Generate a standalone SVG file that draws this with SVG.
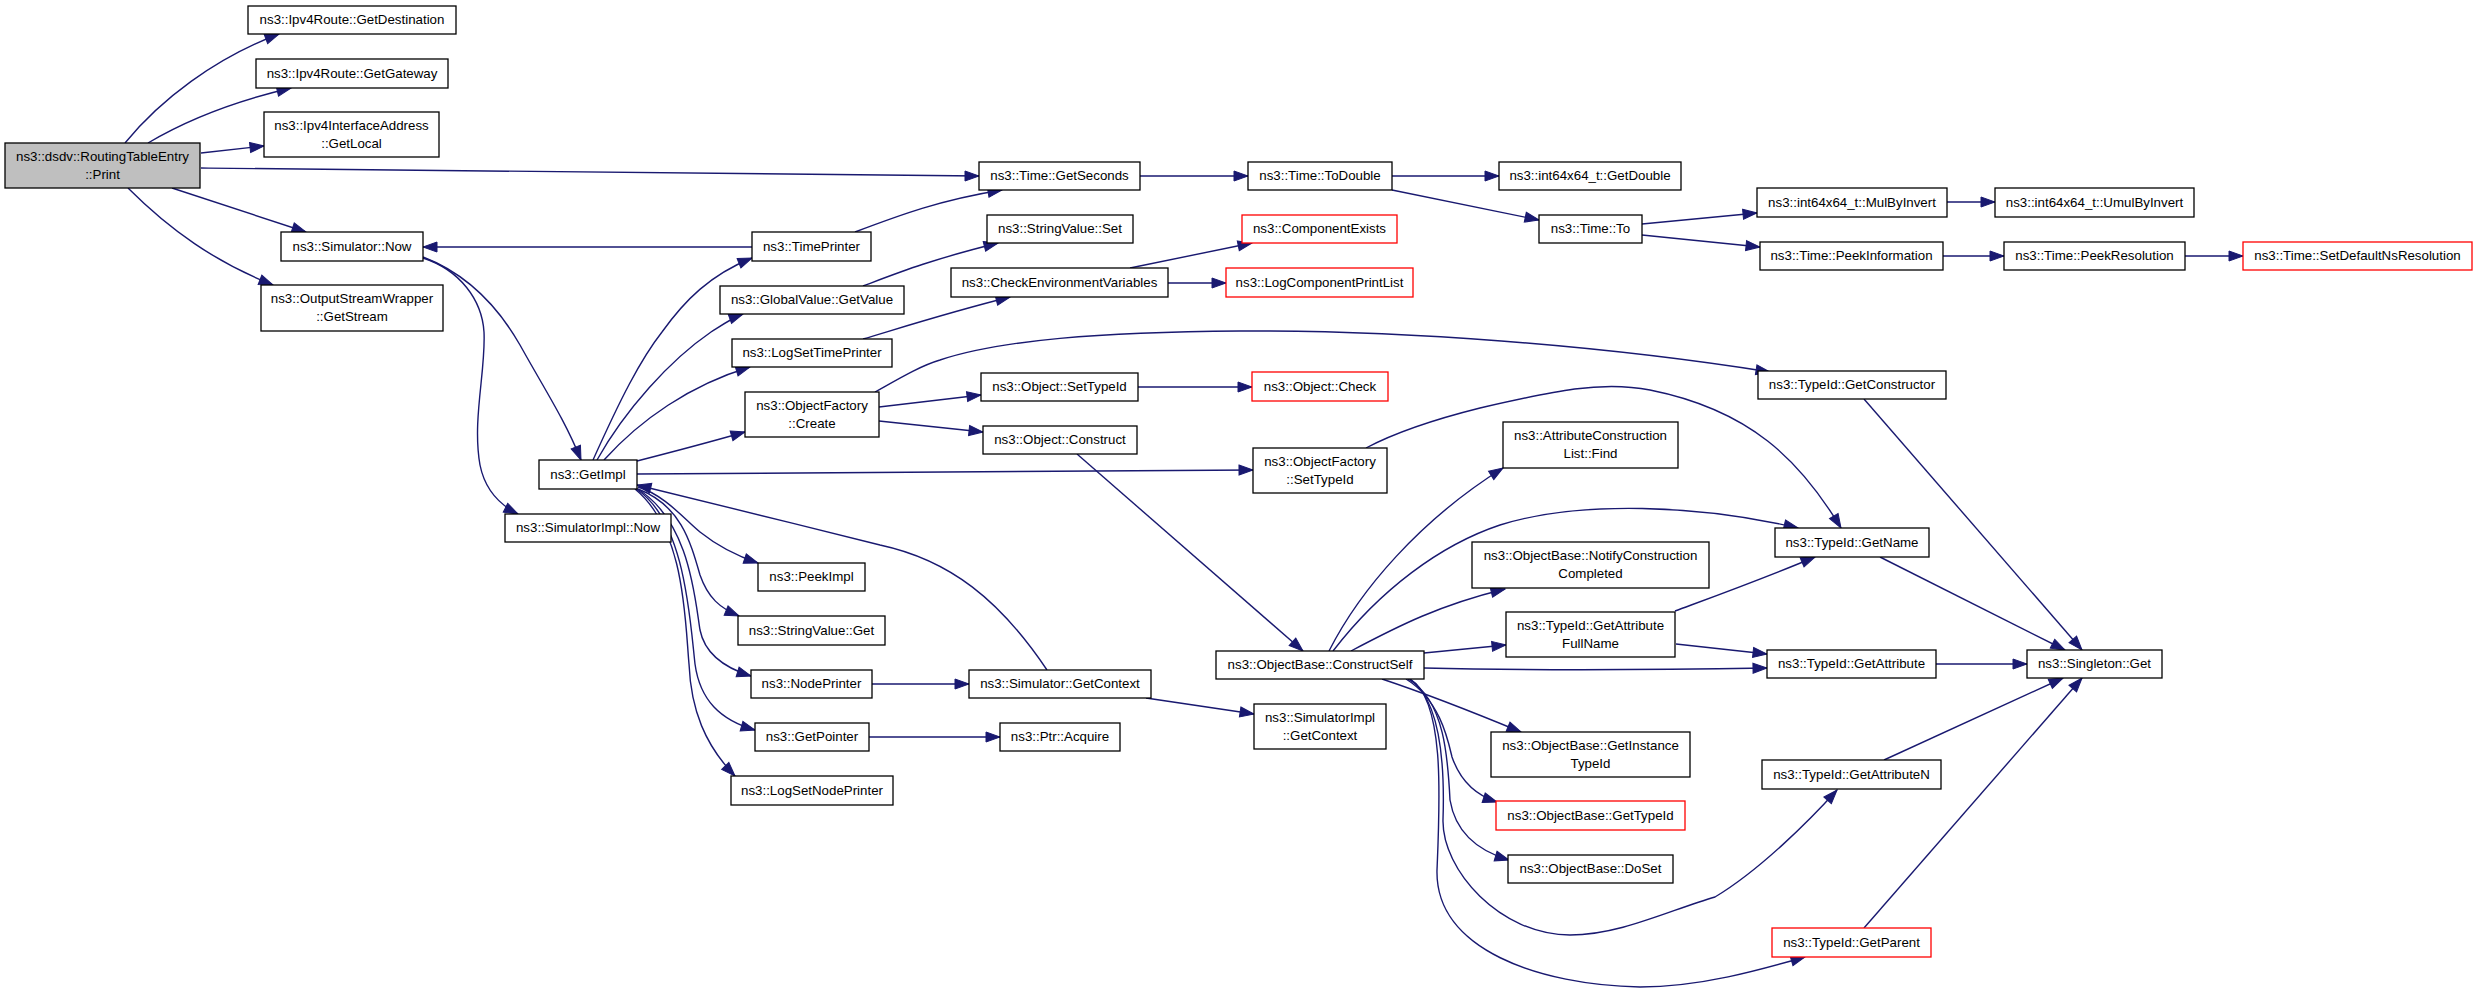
<svg xmlns="http://www.w3.org/2000/svg" width="2477" height="994" viewBox="0 0 2477 994">
<style>
rect{fill:#fff;stroke:#000;stroke-width:1.3}
.r rect{stroke:#ff0000}
.g rect{fill:#bfbfbf}
text{font-family:"Liberation Sans",Arial,Helvetica,sans-serif;font-size:13.3px;fill:#000;text-anchor:middle}
.e path{fill:none;stroke:#191970;stroke-width:1.4;marker-end:url(#a)}
</style>
<defs>
<marker id="a" markerUnits="userSpaceOnUse" markerWidth="15" markerHeight="11" refX="14" refY="5" orient="auto" overflow="visible"><path d="M0,0 L14,5 L0,10 z" fill="#191970" stroke="#191970" stroke-width="1"/></marker>
</defs>
<rect x="0" y="0" width="2477" height="994" style="fill:#fff;stroke:none"/>
<g class="e" id="connectors">
<path d="M125,143 C160,100 215,58 279,34"/>
<path d="M148,143 C190,118 240,100 291,88"/>
<path d="M201,153 L264,146"/>
<path d="M201,168 C500,172 800,176 979,176"/>
<path d="M172,188 L306,232"/>
<path d="M128,188 C170,230 215,262 273,285"/>
<path d="M423,257 C470,275 500,310 520,345 C545,390 565,420 581,460"/>
<path d="M423,258 C460,270 482,300 484,332 C486,370 472,420 480,465 C485,490 500,505 518,514"/>
<path d="M752,247 L423,247"/>
<path d="M855,232 C900,215 940,200 1002,190"/>
<path d="M593,460 C620,400 640,360 662,332 C685,300 710,275 752,258"/>
<path d="M597,460 C625,410 670,360 711,332 C722,325 732,318 743,314"/>
<path d="M863,286 C900,272 930,260 998,243"/>
<path d="M604,460 C640,420 690,385 750,367"/>
<path d="M863,339 C900,328 950,312 1010,297"/>
<path d="M1130,268 L1252,243"/>
<path d="M1168,283 L1226,283"/>
<path d="M637,461 C680,450 710,442 745,432"/>
<path d="M875,392 C900,378 920,366 940,360 C1000,340 1100,332 1240,331 C1400,330 1600,345 1770,372"/>
<path d="M879,407 L981,395"/>
<path d="M879,421 L983,432"/>
<path d="M1138,387 L1252,387"/>
<path d="M637,474 L1253,470"/>
<path d="M1366,448 C1400,430 1440,418 1480,408 C1550,392 1600,380 1650,390 C1750,410 1800,460 1841,528"/>
<path d="M1077,454 L1303,651"/>
<path d="M1047,670 C1000,600 950,560 880,545 C800,525 700,500 637,485"/>
<path d="M638,487 C665,495 685,520 700,532 C720,548 740,557 758,563"/>
<path d="M638,489 C680,505 690,540 700,575 C708,598 720,608 739,616"/>
<path d="M636,488 C690,520 695,600 700,630 C705,655 725,668 751,676"/>
<path d="M636,489 C685,520 690,620 695,664 C700,700 720,720 755,730"/>
<path d="M635,489 C685,530 685,620 689,664 C691,710 705,745 735,776"/>
<path d="M872,684 L969,684"/>
<path d="M869,737 L1000,737"/>
<path d="M1146,698 L1254,714"/>
<path d="M1140,176 L1248,176"/>
<path d="M1392,176 L1499,176"/>
<path d="M1392,190 L1539,220"/>
<path d="M1642,224 L1757,213"/>
<path d="M1642,235 L1760,247"/>
<path d="M1947,202 L1995,202"/>
<path d="M1943,256 L2004,256"/>
<path d="M2185,256 L2243,256"/>
<path d="M1864,399 L2082,650"/>
<path d="M1880,557 L2065,650"/>
<path d="M1936,664 L2027,664"/>
<path d="M1884,760 L2063,678"/>
<path d="M1864,928 L2082,678"/>
<path d="M1329,651 C1360,590 1420,520 1503,468"/>
<path d="M1333,651 C1380,590 1440,545 1500,525 C1580,500 1700,505 1798,528"/>
<path d="M1351,651 C1400,625 1440,605 1505,589"/>
<path d="M1424,653 L1506,645"/>
<path d="M1424,668 C1550,671 1650,670 1767,668"/>
<path d="M1675,611 C1710,598 1760,580 1815,557"/>
<path d="M1676,644 L1767,654"/>
<path d="M1382,679 C1430,695 1480,715 1521,732"/>
<path d="M1406,679 C1440,700 1448,740 1452,757 C1460,780 1475,795 1497,802"/>
<path d="M1408,679 C1445,700 1448,760 1450,800 C1455,830 1475,850 1509,860"/>
<path d="M1410,679 C1440,700 1445,760 1443,820 C1442,870 1500,935 1570,935 C1620,935 1670,910 1715,897 C1760,870 1810,820 1837,790"/>
<path d="M1410,679 C1445,700 1440,800 1437,870 C1435,950 1540,985 1640,987 C1700,987 1760,970 1805,957"/>
</g>
<g id="n_print" class="g"><rect x="5" y="143" width="195" height="45"/><text x="102.5" y="160.5">ns3::dsdv::RoutingTableEntry</text><text x="102.5" y="178.5">::Print</text></g>
<g id="n_getdest"><rect x="248" y="6" width="208" height="28"/><text x="352" y="24">ns3::Ipv4Route::GetDestination</text></g>
<g id="n_getgw"><rect x="256" y="59" width="192" height="29"/><text x="352" y="77.5">ns3::Ipv4Route::GetGateway</text></g>
<g id="n_getlocal"><rect x="264" y="112" width="175" height="45"/><text x="351.5" y="129.5">ns3::Ipv4InterfaceAddress</text><text x="351.5" y="147.5">::GetLocal</text></g>
<g id="n_simnow"><rect x="281" y="232" width="142" height="29"/><text x="352" y="250.5">ns3::Simulator::Now</text></g>
<g id="n_getstream"><rect x="261" y="285" width="182" height="46"/><text x="352" y="303">ns3::OutputStreamWrapper</text><text x="352" y="321">::GetStream</text></g>
<g id="n_getseconds"><rect x="979" y="162" width="161" height="28"/><text x="1059.5" y="180">ns3::Time::GetSeconds</text></g>
<g id="n_timeprinter"><rect x="752" y="232" width="119" height="29"/><text x="811.5" y="250.5">ns3::TimePrinter</text></g>
<g id="n_svset"><rect x="987" y="215" width="146" height="28"/><text x="1060" y="233">ns3::StringValue::Set</text></g>
<g id="n_gvget"><rect x="720" y="286" width="184" height="28"/><text x="812" y="304">ns3::GlobalValue::GetValue</text></g>
<g id="n_checkenv"><rect x="951" y="268" width="217" height="29"/><text x="1059.5" y="286.5">ns3::CheckEnvironmentVariables</text></g>
<g id="n_compexists" class="r"><rect x="1242" y="215" width="155" height="28"/><text x="1319.5" y="233">ns3::ComponentExists</text></g>
<g id="n_logcpl" class="r"><rect x="1226" y="268" width="187" height="29"/><text x="1319.5" y="286.5">ns3::LogComponentPrintList</text></g>
<g id="n_todouble"><rect x="1248" y="162" width="144" height="28"/><text x="1320" y="180">ns3::Time::ToDouble</text></g>
<g id="n_getdouble"><rect x="1499" y="162" width="182" height="28"/><text x="1590" y="180">ns3::int64x64_t::GetDouble</text></g>
<g id="n_to"><rect x="1539" y="215" width="103" height="28"/><text x="1590.5" y="233">ns3::Time::To</text></g>
<g id="n_mulbyinv"><rect x="1757" y="188" width="190" height="29"/><text x="1852" y="206.5">ns3::int64x64_t::MulByInvert</text></g>
<g id="n_peekinfo"><rect x="1760" y="242" width="183" height="28"/><text x="1851.5" y="260">ns3::Time::PeekInformation</text></g>
<g id="n_umul"><rect x="1995" y="188" width="199" height="29"/><text x="2094.5" y="206.5">ns3::int64x64_t::UmulByInvert</text></g>
<g id="n_peekres"><rect x="2004" y="242" width="181" height="28"/><text x="2094.5" y="260">ns3::Time::PeekResolution</text></g>
<g id="n_setdef" class="r"><rect x="2243" y="242" width="229" height="28"/><text x="2357.5" y="260">ns3::Time::SetDefaultNsResolution</text></g>
<g id="n_getimpl"><rect x="539" y="460" width="98" height="29"/><text x="588" y="478.5">ns3::GetImpl</text></g>
<g id="n_simimplnow"><rect x="505" y="514" width="166" height="28"/><text x="588" y="532">ns3::SimulatorImpl::Now</text></g>
<g id="n_logsettp"><rect x="732" y="339" width="160" height="28"/><text x="812" y="357">ns3::LogSetTimePrinter</text></g>
<g id="n_ofcreate"><rect x="745" y="392" width="134" height="45"/><text x="812" y="409.5">ns3::ObjectFactory</text><text x="812" y="427.5">::Create</text></g>
<g id="n_objsettid"><rect x="981" y="373" width="157" height="28"/><text x="1059.5" y="391">ns3::Object::SetTypeId</text></g>
<g id="n_objconstruct"><rect x="983" y="426" width="154" height="28"/><text x="1060" y="444">ns3::Object::Construct</text></g>
<g id="n_peekimpl"><rect x="758" y="563" width="107" height="28"/><text x="811.5" y="581">ns3::PeekImpl</text></g>
<g id="n_svget"><rect x="738" y="616" width="147" height="29"/><text x="811.5" y="634.5">ns3::StringValue::Get</text></g>
<g id="n_objcheck" class="r"><rect x="1252" y="372" width="136" height="29"/><text x="1320" y="390.5">ns3::Object::Check</text></g>
<g id="n_getctor"><rect x="1758" y="371" width="188" height="28"/><text x="1852" y="389">ns3::TypeId::GetConstructor</text></g>
<g id="n_ofsettid"><rect x="1253" y="448" width="134" height="45"/><text x="1320" y="465.5">ns3::ObjectFactory</text><text x="1320" y="483.5">::SetTypeId</text></g>
<g id="n_acfind"><rect x="1503" y="422" width="175" height="46"/><text x="1590.5" y="440">ns3::AttributeConstruction</text><text x="1590.5" y="458">List::Find</text></g>
<g id="n_getname"><rect x="1775" y="528" width="154" height="29"/><text x="1852" y="546.5">ns3::TypeId::GetName</text></g>
<g id="n_notify"><rect x="1472" y="542" width="237" height="46"/><text x="1590.5" y="560">ns3::ObjectBase::NotifyConstruction</text><text x="1590.5" y="578">Completed</text></g>
<g id="n_getattrfull"><rect x="1506" y="612" width="169" height="45"/><text x="1590.5" y="629.5">ns3::TypeId::GetAttribute</text><text x="1590.5" y="647.5">FullName</text></g>
<g id="n_getattr"><rect x="1767" y="650" width="169" height="28"/><text x="1851.5" y="668">ns3::TypeId::GetAttribute</text></g>
<g id="n_constructself"><rect x="1216" y="651" width="208" height="28"/><text x="1320" y="669">ns3::ObjectBase::ConstructSelf</text></g>
<g id="n_singleton"><rect x="2027" y="650" width="135" height="28"/><text x="2094.5" y="668">ns3::Singleton::Get</text></g>
<g id="n_nodeprinter"><rect x="751" y="670" width="121" height="28"/><text x="811.5" y="688">ns3::NodePrinter</text></g>
<g id="n_simgetctx"><rect x="969" y="670" width="182" height="28"/><text x="1060" y="688">ns3::Simulator::GetContext</text></g>
<g id="n_getpointer"><rect x="755" y="723" width="114" height="28"/><text x="812" y="741">ns3::GetPointer</text></g>
<g id="n_acquire"><rect x="1000" y="723" width="120" height="28"/><text x="1060" y="741">ns3::Ptr::Acquire</text></g>
<g id="n_logsetnp"><rect x="731" y="776" width="162" height="29"/><text x="812" y="794.5">ns3::LogSetNodePrinter</text></g>
<g id="n_simimplctx"><rect x="1254" y="704" width="132" height="45"/><text x="1320" y="721.5">ns3::SimulatorImpl</text><text x="1320" y="739.5">::GetContext</text></g>
<g id="n_getinsttid"><rect x="1491" y="732" width="199" height="45"/><text x="1590.5" y="749.5">ns3::ObjectBase::GetInstance</text><text x="1590.5" y="767.5">TypeId</text></g>
<g id="n_getattrn"><rect x="1762" y="760" width="179" height="29"/><text x="1851.5" y="778.5">ns3::TypeId::GetAttributeN</text></g>
<g id="n_obgettid" class="r"><rect x="1496" y="801" width="189" height="29"/><text x="1590.5" y="819.5">ns3::ObjectBase::GetTypeId</text></g>
<g id="n_doset"><rect x="1508" y="855" width="165" height="28"/><text x="1590.5" y="873">ns3::ObjectBase::DoSet</text></g>
<g id="n_getparent" class="r"><rect x="1772" y="928" width="159" height="29"/><text x="1851.5" y="946.5">ns3::TypeId::GetParent</text></g>
</svg>
